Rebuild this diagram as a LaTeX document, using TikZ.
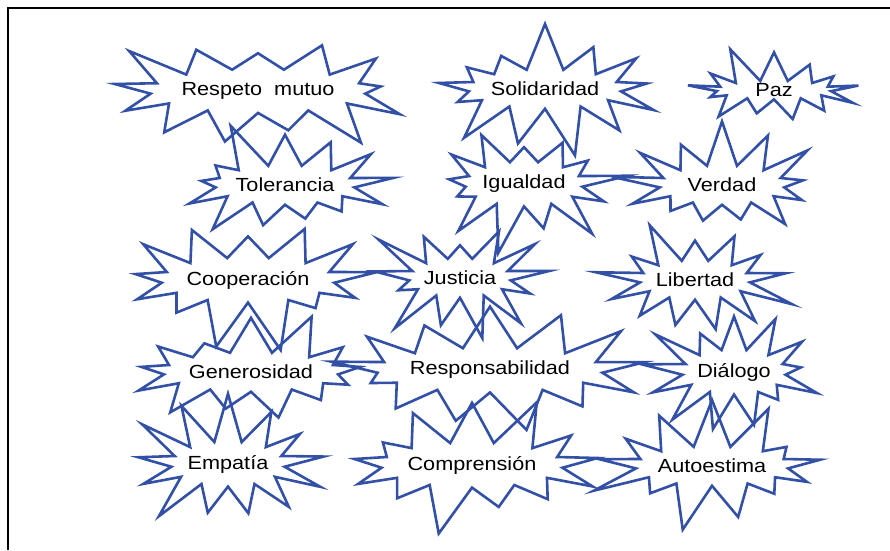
\documentclass[tikz,border=0pt]{standalone}
\usepackage{fontspec}
\setmainfont[FakeStretch=1.14]{Liberation Sans}
\usetikzlibrary{shapes.symbols}
\definecolor{burstblue}{RGB}{50,80,165}
\begin{document}
\begin{tikzpicture}[x=1pt,y=-1pt,
    burst/.style={starburst, draw=burstblue, line width=2.6pt,
        starburst points=13, starburst point height=50pt,
        inner xsep=0pt, inner ysep=7pt, font=\fontsize{19}{20}\selectfont},
    ]
    \useasboundingbox (0,0) rectangle (890,550);
    \draw[line width=1.6pt] (8,550) -- (8,8) -- (890,8);
    % first row
    \node[burst, random starburst=3] (respeto) at (258,91) {Respeto\ \ mutuo};
    \node[burst, random starburst=7] (solid) at (545,89) {Solidaridad};
    \node[burst, random starburst=11, inner xsep=22pt, inner ysep=0pt,
        starburst point height=38pt] (paz) at (774,90) {Paz};
    % second row
    \node[burst, random starburst=5] (toler) at (285,185) {Tolerancia};
    \node[burst, random starburst=13] (igual) at (524,184) {Igualdad};
    \node[burst, random starburst=17, inner xsep=10pt] (verdad) at (722,185) {Verdad};
    % third row
    \node[burst, random starburst=19] (coop) at (248,280) {Cooperación};
    \node[burst, random starburst=23] (justicia) at (460,278) {Justicia};
    \node[burst, random starburst=29] (libertad) at (695,280) {Libertad};
    % fourth row
    \node[burst, random starburst=31] (gener) at (251,372) {Generosidad};
    \node[burst, random starburst=37] (respons) at (490,370) {Responsabilidad};
    \node[burst, random starburst=41] (dialogo) at (734,372) {Diálogo};
    % fifth row
    \node[burst, random starburst=43] (empatia) at (228,464) {Empatía};
    \node[burst, random starburst=47] (compren) at (472,465) {Comprensión};
    \node[burst, random starburst=53] (autoest) at (712,466) {Autoestima};
\end{tikzpicture}
\end{document}
